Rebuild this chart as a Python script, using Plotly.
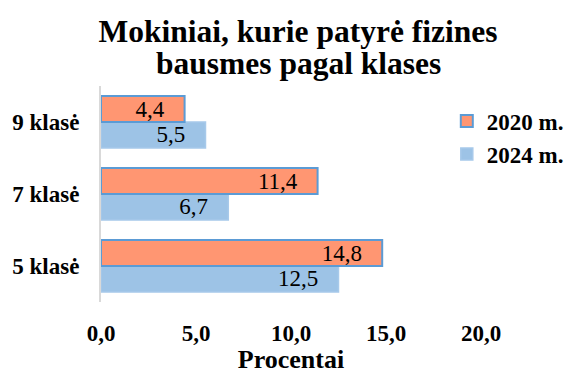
import plotly.graph_objects as go

# Data
classes = ["5 klasė", "7 klasė", "9 klasė"]
values_2020 = [14.8, 11.4, 4.4]
values_2024 = [12.5, 6.7, 5.5]
x_ticks = [0, 5, 10, 15, 20]

NBSP = "\u00a0"


def label(v):
    # decimal comma, with a little right padding inside the bar
    return f"{v:.1f}".replace(".", ",") + NBSP * 3


serif = "Liberation Serif, Times New Roman, serif"

fig = go.Figure()
fig.add_trace(go.Bar(
    name="2024 m.", y=classes, x=values_2024, orientation="h",
    text=[label(v) for v in values_2024], textposition="inside",
    insidetextanchor="end", constraintext="none",
    textfont=dict(family=serif, size=23, color="black"),
    marker=dict(color="#9DC3E6", line=dict(color="#A7C9EA", width=1.5)),
    legendrank=2,
))
fig.add_trace(go.Bar(
    name="2020 m.", y=classes, x=values_2020, orientation="h",
    text=[label(v) for v in values_2020], textposition="inside",
    insidetextanchor="end", constraintext="none",
    textfont=dict(family=serif, size=23, color="black"),
    marker=dict(color="#FF9672", line=dict(color="#5B9BD5", width=2)),
    legendrank=1,
))

fig.update_layout(
    width=571, height=374,
    margin=dict(l=101, r=90, t=86, b=72, autoexpand=False),
    paper_bgcolor="white", plot_bgcolor="white",
    barmode="group", bargap=0.28, bargroupgap=0,
    separators=", ",
    font=dict(family=serif, color="black"),
    title=dict(
        text="Mokiniai, kurie patyrė fizines",
        x=298 / 571, xanchor="center", yref="container", y=0.917, yanchor="middle",
        font=dict(family=serif, size=31.5, color="black", weight="bold"),
    ),
    annotations=[dict(
        text="bausmes pagal klases", showarrow=False,
        xref="paper", yref="paper", x=(298 - 101) / 380, xanchor="center",
        y=(302 - 63) / 216, yanchor="middle",
        font=dict(family=serif, size=31.5, color="black", weight="bold"),
    )],
    legend=dict(
        x=0.91, xanchor="left", y=0.761, yanchor="middle",
        itemwidth=30,
        font=dict(family=serif, size=23, color="black", weight="bold"),
        bgcolor="rgba(0,0,0,0)",
    ),
    xaxis=dict(
        range=[0, 20], tickvals=x_ticks, tickformat=".1f",
        showgrid=False, zeroline=False, showline=False, automargin=False,
        ticks="", ticklabelstandoff=15,
        tickfont=dict(family=serif, size=23, color="black", weight="bold"),
        title=dict(text="Procentai", standoff=7,
                   font=dict(family=serif, size=26, color="black", weight="bold")),
    ),
    yaxis=dict(
        categoryorder="array", categoryarray=classes,
        showgrid=False, zeroline=False, automargin=False,
        showline=True, linecolor="#D9D9D9", linewidth=2,
        ticks="", ticklabelstandoff=15,
        tickfont=dict(family=serif, size=23, color="black", weight="bold"),
    ),
)

fig.write_html("out.html")
